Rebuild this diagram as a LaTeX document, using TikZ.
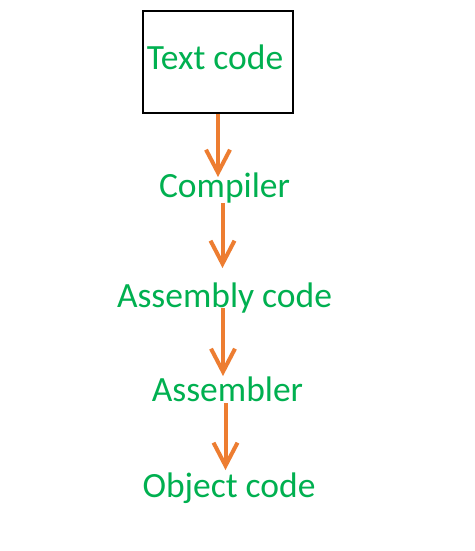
\documentclass[tikz,border=0pt]{standalone}
\usepackage{fontspec}
\setmainfont{Carlito}
\usetikzlibrary{arrows.meta}
\definecolor{txtgreen}{RGB}{0,176,80}
\definecolor{arrorange}{RGB}{237,125,49}
\tikzset{
  lbl/.style={anchor=base, inner sep=0pt, text=txtgreen, font=\fontsize{35.5}{40}\selectfont},
  boxstyle/.style={draw=black, line width=2pt, minimum width=150pt, minimum height=102pt, inner sep=0pt},
  arr/.style={draw=arrorange, line width=4pt, -{Straight Barb[length=23pt, width=24pt, line width=4pt]}}
}
\begin{document}
\begin{tikzpicture}[x=1pt,y=-1pt]
\useasboundingbox[fill=white] (0,0) rectangle (474,551);
\node[boxstyle] (box) at (218,62) {};
\node[lbl] (txt) at (215,70) {Text code};
\node[lbl] (comp) at (224.5,197) {Compiler};
\node[lbl] (asmc) at (224.5,307) {Assembly code};
\node[lbl] (asmr) at (227.5,401) {Assembler};
\node[lbl] (obj) at (229,497) {Object code};
\coordinate (e1) at (218,177);
\coordinate (s2) at (222.5,203);
\coordinate (e2) at (222.5,268);
\coordinate (s3) at (223,308);
\coordinate (e3) at (223,376);
\coordinate (s4) at (225.5,403);
\coordinate (e4) at (225.5,470);
\draw[arr] (box.south) -- (e1);
\draw[arr] (s2) -- (e2);
\draw[arr] (s3) -- (e3);
\draw[arr] (s4) -- (e4);
\end{tikzpicture}
\end{document}
